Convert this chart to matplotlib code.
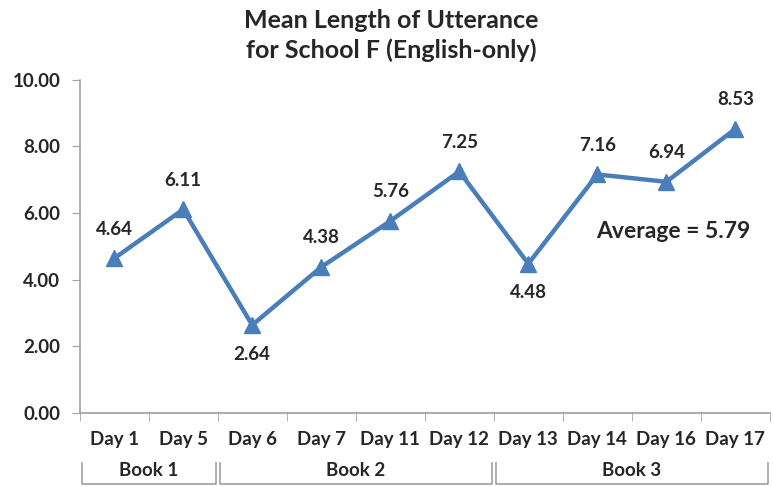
import matplotlib
matplotlib.use("Agg")
import matplotlib.pyplot as plt
from matplotlib.lines import Line2D

plt.rcParams['font.family'] = ['Lato', 'DejaVu Sans']
plt.rcParams['font.weight'] = 'bold'

days = ["Day 1", "Day 5", "Day 6", "Day 7", "Day 11", "Day 12",
        "Day 13", "Day 14", "Day 16", "Day 17"]
mlu = [4.64, 6.11, 2.64, 4.38, 5.76, 7.25, 4.48, 7.16, 6.94, 8.53]
books = ["Book 1", "Book 2", "Book 3"]
book_sizes = [2, 4, 4]
average = 5.79
yticks = [0, 2, 4, 6, 8, 10]

TEXT = "#262626"
LINE = "#4A7EBB"
AXIS = "#A0A0A0"

fig = plt.figure(figsize=(7.73, 4.87), dpi=100)
ax = fig.add_axes([0.103, 0.152, 0.893, 0.684])

x = list(range(len(days)))
ax.plot(x, mlu, color=LINE, lw=3.2, marker='^', ms=11, mfc=LINE, mec=LINE)

below = {2, 6}
for i, v in enumerate(mlu):
    off = -21 if i in below else 21
    ax.annotate(f"{v:.2f}", (i, v), xytext=(0, off), textcoords='offset points',
                ha='center', va='center', fontsize=13.5, color=TEXT, fontweight='bold')

ax.text(8.1, 5.45, f"Average = {average:.2f}", ha='center', va='center',
        fontsize=16.5, color=TEXT, fontweight='bold')

ax.set_xlim(-0.5, len(days) - 0.5)
ax.set_ylim(0, 10)
ax.set_yticks(yticks)
ax.set_yticklabels([f"{t:.2f}" for t in yticks], fontsize=13.5, color=TEXT, fontweight='bold')
ax.set_xticks(x)
ax.set_xticklabels(days, fontsize=13.5, color=TEXT, fontweight='bold')
ax.set_xticks([i - 0.5 for i in range(len(days) + 1)], minor=True)
ax.tick_params(axis='x', which='major', length=0, pad=13)
ax.tick_params(axis='x', which='minor', length=6, color=AXIS, direction='out')
ax.tick_params(axis='y', length=6, color=AXIS, pad=8)

for s in ['top', 'right']:
    ax.spines[s].set_visible(False)
for s in ['left', 'bottom']:
    ax.spines[s].set_color(AXIS)
    ax.spines[s].set_linewidth(1.2)

fig.text(0.506, 0.982, "Mean Length of Utterance\nfor School F (English-only)", fontsize=18,
         color=TEXT, fontweight='bold', ha='center', va='top', linespacing=1.35)

# group brackets below the category labels
trans = ax.get_xaxis_transform()
start = -0.5
for name, n in zip(books, book_sizes):
    end = start + n
    xs = [start + 0.03, start + 0.03, end - 0.03, end - 0.03]
    ys = [-0.15, -0.212, -0.212, -0.15]
    ax.add_line(Line2D(xs, ys, transform=trans, color=AXIS, lw=1.2, clip_on=False))
    ax.text((start + end) / 2, -0.172, name, transform=trans, ha='center', va='center',
            fontsize=13.5, color=TEXT, fontweight='bold')
    start = end

fig.savefig("out.png", dpi=100)
